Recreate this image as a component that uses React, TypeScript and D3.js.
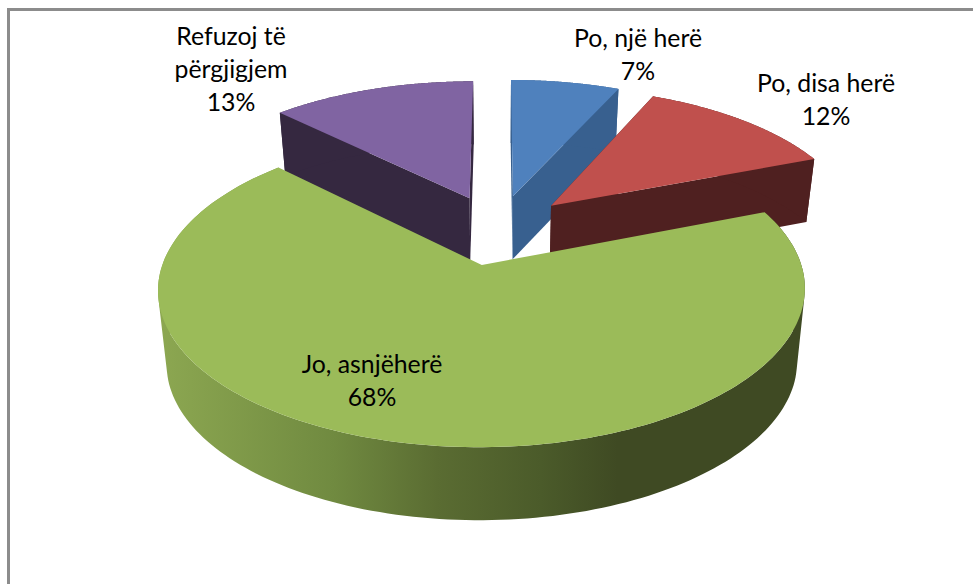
import React from "react";
import * as d3 from "d3";

const categories = ["Po, një herë", "Po, disa herë", "Jo, asnjëherë", "Refuzoj të përgjigjem"];
const shares = [6.7, 12.4, 68.3, 12.6];
const labelLines = [["Po, një herë", "7%"], ["Po, disa herë", "12%"], ["Jo, asnjëherë", "68%"], ["Refuzoj të", "përgjigjem", "13%"]];
const topColors = ["#4f81bd", "#c0504d", "#9bbb59", "#8064a2"];
const sideColors = ["#38608f", "#4f2020", "#3f4a23", "#352840"];
const labelAnchors = [[638, 47], [826, 92], [372, 373], [231, 45]];
const greenStops = [[0, "#8ca751"], [0.27, "#708a40"], [0.43, "#5a6c32"], [0.59, "#4b5b2a"], [0.71, "#3f4a23"], [1, "#3f4a23"]];

const CX = 497.7, CY = 229.4, A = 308, B = 143, K = 0.15, EXPLODE = 0.245, BOTTOM_SCALE = 0.975;

type P = [number, number];
const depthAt = (v: number) => 63 + (v > 0 ? Math.min(10, 20 * v) : 0);
const project = (u: number, v: number, low: boolean): P => {
  const w = 1 - K * v;
  const s = low ? BOTTOM_SCALE : 1;
  return [CX + (s * A * u) / w, CY + (B * v) / w + (low ? depthAt(v) : 0)];
};

const arcs = d3.pie<number>().sort(null)(shares);
const line = d3.line();

function Slice({ i }: { i: number }) {
  const a = arcs[i];
  const mid = (a.startAngle + a.endAngle) / 2;
  const ou = EXPLODE * Math.sin(mid), ov = -EXPLODE * Math.cos(mid);
  const rim = (t: number, low: boolean) => project(ou + Math.sin(t), ov - Math.cos(t), low);
  const apex = (low: boolean) => project(ou, ov, low);
  const ts = d3.range(0, 181).map((n) => a.startAngle + ((a.endAngle - a.startAngle) * n) / 180);
  const top = line([apex(false), ...ts.map((t) => rim(t, false))]) + "Z";
  const fill = i === 2 ? "url(#greenSide)" : sideColors[i];
  const endFace = line([apex(false), rim(a.endAngle, false), rim(a.endAngle, true), apex(true)]) + "Z";
  const startFace = line([apex(false), rim(a.startAngle, false), rim(a.startAngle, true), apex(true)]) + "Z";
  // all wall strips wound the same way, in one path, so they merge without seams
  const wall = ts.slice(1).map((t, n) => {
    const quad: P[] = [rim(ts[n], false), rim(t, false), rim(t, true), rim(ts[n], true)];
    return line(d3.polygonArea(quad) < 0 ? quad.slice().reverse() : quad) + "Z";
  }).join("");
  return (
    <g>
      {i !== 2 && <path d={startFace} fill={sideColors[i]} />}
      {i !== 2 && <path d={endFace} fill={sideColors[i]} />}
      <path d={wall} fill={fill} />
      <path d={top} fill={topColors[i]} />
    </g>
  );
}

export default function App() {
  return (
    <svg width={973} height={584} style={{ position: "absolute", left: 0, top: 0, background: "#fff" }}>
      <defs>
        <linearGradient id="greenSide" gradientUnits="userSpaceOnUse" x1={160} x2={805} y1={0} y2={0}>
          {greenStops.map(([o, c]) => <stop key={String(o)} offset={Number(o)} stopColor={String(c)} />)}
        </linearGradient>
      </defs>
      <path d="M8.5 584V9.5H973" fill="none" stroke="#8c8c8c" strokeWidth={3} />
      {[3, 0, 1, 2].map((i) => <Slice key={categories[i]} i={i} />)}
      {labelLines.map((lines, i) => (
        <text key={i} x={labelAnchors[i][0]} y={labelAnchors[i][1]} textAnchor="middle" fontFamily="Lato" fontSize={24.8} fill="#000">
          {lines.map((l, j) => <tspan key={j} x={labelAnchors[i][0]} dy={j === 0 ? 0 : 33}>{l}</tspan>)}
        </text>
      ))}
    </svg>
  );
}
